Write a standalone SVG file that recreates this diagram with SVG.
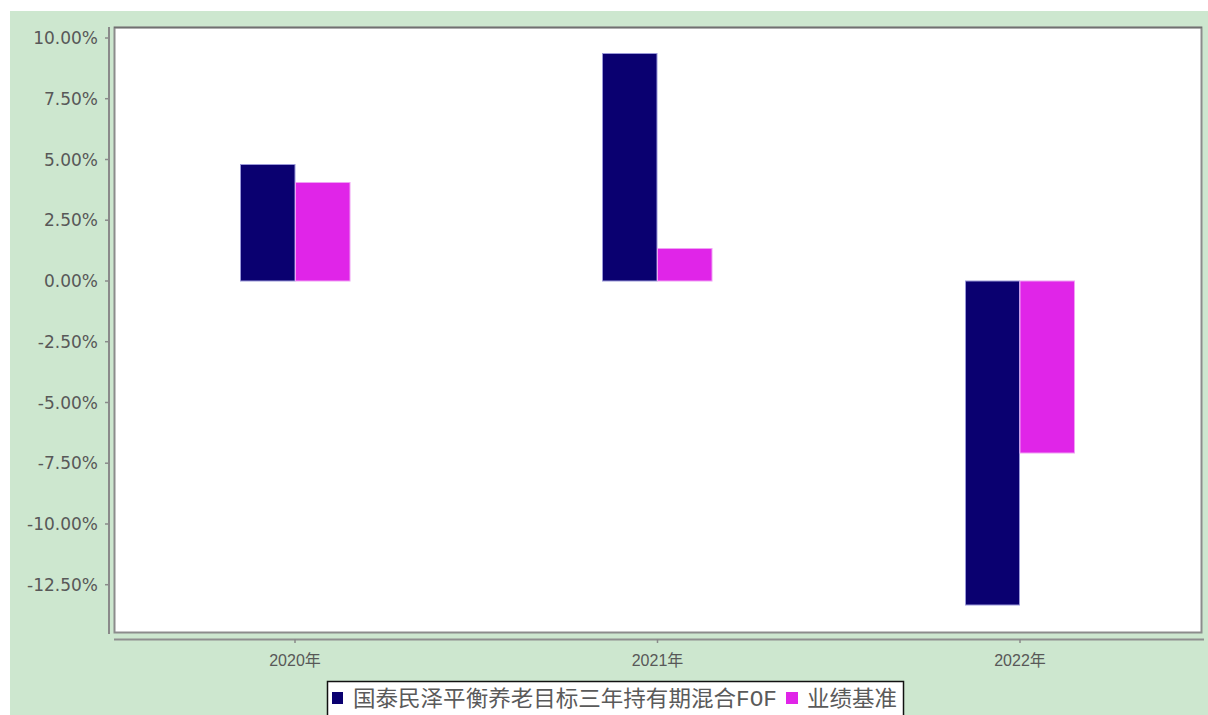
<svg xmlns="http://www.w3.org/2000/svg" width="1208" height="715" viewBox="0 0 1208 715">
<style>
.ylab{font-family:"DejaVu Sans",sans-serif;font-size:17px;fill:#585858;text-anchor:end}
.xlab{font-family:"Liberation Sans","Noto Sans CJK SC",sans-serif;font-size:16px;fill:#585858;text-anchor:middle}
.leg{font-family:"Noto Sans CJK SC",sans-serif;font-size:22px;fill:#5a5a5a}
.tick{stroke:#8a8a8a;stroke-width:1.5}
.s1{fill:#0A0070;stroke:#9a98d8;stroke-width:1}
.s2{fill:#E025E8;stroke:#f0a0f4;stroke-width:1}
</style>
<rect x="0" y="0" width="1208" height="715" fill="#ffffff"/>
<rect x="10" y="11" width="1198" height="704" fill="#CDE7CF"/>
<g id="plot">
<rect x="114.5" y="27.5" width="1087" height="605" fill="#ffffff" stroke="#8c8c8c" stroke-width="2"/>
<path d="M114 27.5H1202" stroke="#707070" stroke-width="1.5" fill="none"/>
</g>
<g id="yaxis">
<line x1="109" y1="27" x2="109" y2="634" stroke="#8a8a8a" stroke-width="2"/>
<g class="tick">
<line x1="105" y1="38" x2="109" y2="38"/>
<line x1="105" y1="98.7" x2="109" y2="98.7"/>
<line x1="105" y1="159.5" x2="109" y2="159.5"/>
<line x1="105" y1="220.2" x2="109" y2="220.2"/>
<line x1="105" y1="281" x2="109" y2="281"/>
<line x1="105" y1="341.7" x2="109" y2="341.7"/>
<line x1="105" y1="402.5" x2="109" y2="402.5"/>
<line x1="105" y1="463.2" x2="109" y2="463.2"/>
<line x1="105" y1="524" x2="109" y2="524"/>
<line x1="105" y1="584.7" x2="109" y2="584.7"/>
</g>
<text class="ylab" x="98" y="44">10.00%</text>
<text class="ylab" x="98" y="104.7">7.50%</text>
<text class="ylab" x="98" y="165.5">5.00%</text>
<text class="ylab" x="98" y="226.2">2.50%</text>
<text class="ylab" x="98" y="287">0.00%</text>
<text class="ylab" x="98" y="347.7">-2.50%</text>
<text class="ylab" x="98" y="408.5">-5.00%</text>
<text class="ylab" x="98" y="469.2">-7.50%</text>
<text class="ylab" x="98" y="530">-10.00%</text>
<text class="ylab" x="98" y="590.7">-12.50%</text>
</g>
<g id="xaxis">
<line x1="114" y1="639.5" x2="1204" y2="639.5" stroke="#8f8f8f" stroke-width="2"/>
<g class="tick">
<line x1="295" y1="639" x2="295" y2="643"/>
<line x1="657.5" y1="639" x2="657.5" y2="643"/>
<line x1="1020" y1="639" x2="1020" y2="643"/>
</g>
<text class="xlab" x="295" y="666">2020年</text>
<text class="xlab" x="657.5" y="666">2021年</text>
<text class="xlab" x="1020" y="666">2022年</text>
</g>
<g id="bars-fund">
<rect class="s1" x="240.5" y="164.5" width="54.5" height="116.5"/>
<rect class="s1" x="602.5" y="53.5" width="54.5" height="227.5"/>
<rect class="s1" x="965.5" y="281" width="54" height="324"/>
</g>
<g id="bars-benchmark">
<rect class="s2" x="295.5" y="182.5" width="54.5" height="98.5"/>
<rect class="s2" x="657.5" y="248.5" width="54.5" height="32.5"/>
<rect class="s2" x="1020" y="281" width="54.5" height="172"/>
</g>
<g id="legend">
<rect x="327.5" y="681.5" width="576" height="40" fill="#ffffff" stroke="#111111" stroke-width="1.5"/>
<rect x="332" y="692" width="11" height="12" fill="#0A0070"/>
<text class="leg" x="353" y="706" textLength="383" lengthAdjust="spacingAndGlyphs">国泰民泽平衡养老目标三年持有期混合</text>
<text class="leg" x="736" y="706" textLength="41" lengthAdjust="spacingAndGlyphs" style="font-family:'Liberation Mono',monospace">FOF</text>
<rect x="786" y="692" width="12" height="12" fill="#E025E8"/>
<text class="leg" x="807" y="706" textLength="90" lengthAdjust="spacingAndGlyphs">业绩基准</text>
</g>
</svg>
